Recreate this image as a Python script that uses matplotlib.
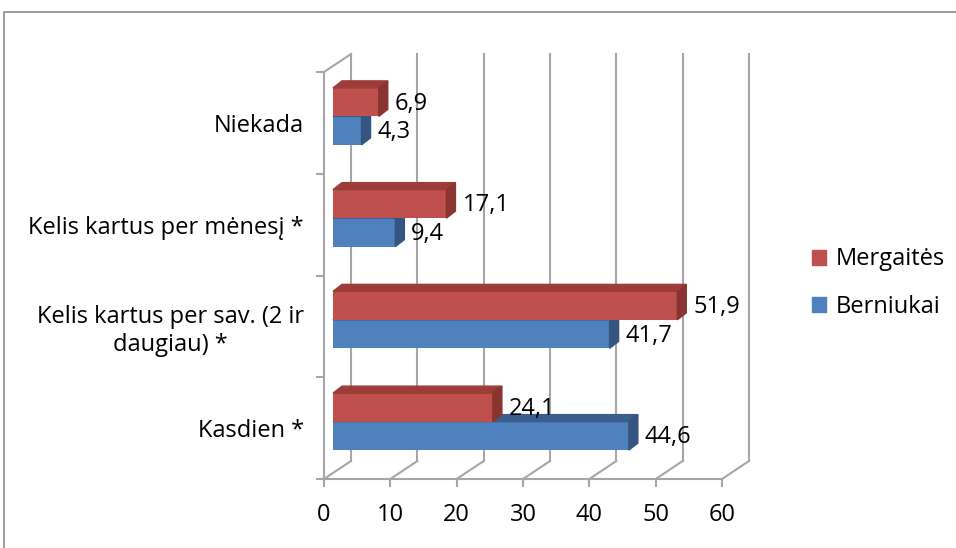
import numpy as np
import matplotlib.pyplot as plt
from matplotlib.patches import Polygon, Patch
from matplotlib.lines import Line2D

plt.rcParams['font.family'] = ['Open Sans', 'DejaVu Sans']

categories = ['Kasdien *', 'Kelis kartus per sav. (2 ir\ndaugiau) *',
              'Kelis kartus per mėnesį *', 'Niekada']
berniukai = [44.6, 41.7, 9.4, 4.3]
mergaites = [24.1, 51.9, 17.1, 6.9]
xticks = [0, 10, 20, 30, 40, 50, 60]

W, H = 956, 548
fig = plt.figure(figsize=(W / 100, H / 100), dpi=100)

# front plane of the pseudo 3d box, in pixels
x0, x1, ytop, ybot = 324, 722, 72, 479
ax = fig.add_axes([x0 / W, 1 - ybot / H, (x1 - x0) / W, (ybot - ytop) / H])
ax.set_xlim(0, 60)
ax.set_ylim(-0.5, 3.5)
sx = (x1 - x0) / 60.0
sy = (ybot - ytop) / 4.0


def px(dx, dy):
    # pixel offset -> data offset
    return dx / sx, dy / sy


gcol = '#a6a6a6'
fs = 17

# walls / floor
dxw, dyw = px(27, 18)
for v in xticks:
    ax.plot([v + dxw, v + dxw], [-0.5 + dyw, 3.5 + dyw], color=gcol, lw=1.5,
            clip_on=False, zorder=1)
    ax.plot([v, v + dxw], [-0.5, -0.5 + dyw], color=gcol, lw=1.5,
            clip_on=False, zorder=1)
ax.plot([0, dxw], [3.5, 3.5 + dyw], color=gcol, lw=1.5, clip_on=False, zorder=1)

for s in ['top', 'right']:
    ax.spines[s].set_visible(False)
for s in ['left', 'bottom']:
    ax.spines[s].set_color(gcol)
    ax.spines[s].set_linewidth(1.5)

ax.set_xticks(xticks)
ax.set_xticklabels([str(t) for t in xticks])
ax.tick_params(axis='x', direction='out', length=5.5, width=1.5, color=gcol,
               labelsize=fs, pad=12)
ax.set_yticks(np.arange(4))
ax.set_yticklabels(categories)
for lbl in ax.get_yticklabels():
    lbl.set_multialignment('center')
ax.set_yticks(np.arange(-0.5, 4.0, 1.0), minor=True)
ax.tick_params(axis='y', which='major', length=0, labelsize=fs, pad=14.5)
ax.tick_params(axis='y', which='minor', direction='out', length=5.5, width=1.5,
               color=gcol)

# bars
ox, oy = px(9, 6.5)
bx, by = px(9, 7)
h = 0.28
gap = px(7, 0)[0]
blue = ('#4f81bd', '#3a5f8c', '#33557f')
red = ('#c0504d', '#9c3d3a', '#8a3432')
y = np.arange(4)
series = [(berniukai, -h / 2, blue, 3), (mergaites, h / 2, red, 4)]
for vals, off, (cf, ct, cs), z in series:
    yc = y + off + oy
    ax.barh(yc, vals, height=h, left=ox, color=cf, zorder=z, clip_on=False)
    for yi, v in zip(yc, vals):
        top = [(ox, yi + h / 2), (ox + v, yi + h / 2),
               (ox + v + bx, yi + h / 2 + by), (ox + bx, yi + h / 2 + by)]
        side = [(ox + v, yi - h / 2), (ox + v + bx, yi - h / 2 + by),
                (ox + v + bx, yi + h / 2 + by), (ox + v, yi + h / 2)]
        ax.add_patch(Polygon(top, closed=True, color=ct, zorder=z, clip_on=False))
        ax.add_patch(Polygon(side, closed=True, color=cs, zorder=z, clip_on=False))
        ax.text(ox + v + bx + gap, yi + px(0, -1.5)[1], f'{v:.1f}'.replace('.', ','),
                va='center', ha='left', fontsize=fs, zorder=6)

# outer frame
fig.add_artist(Line2D([4 / W, 4 / W, 1], [0, 1 - 12 / H, 1 - 12 / H],
                      transform=fig.transFigure, color='#8c8c8c', lw=1.2))

handles = [Patch(color=red[0]), Patch(color=blue[0])]
fig.legend(handles, ['Mergaitės', 'Berniukai'], loc='center left',
           bbox_to_anchor=(812 / W, 1 - 283 / H), frameon=False, borderpad=0,
           borderaxespad=0, handlelength=0.6, handleheight=0.6,
           handletextpad=0.4, labelspacing=0.98, fontsize=fs)

fig.savefig('out.png', dpi=100)
